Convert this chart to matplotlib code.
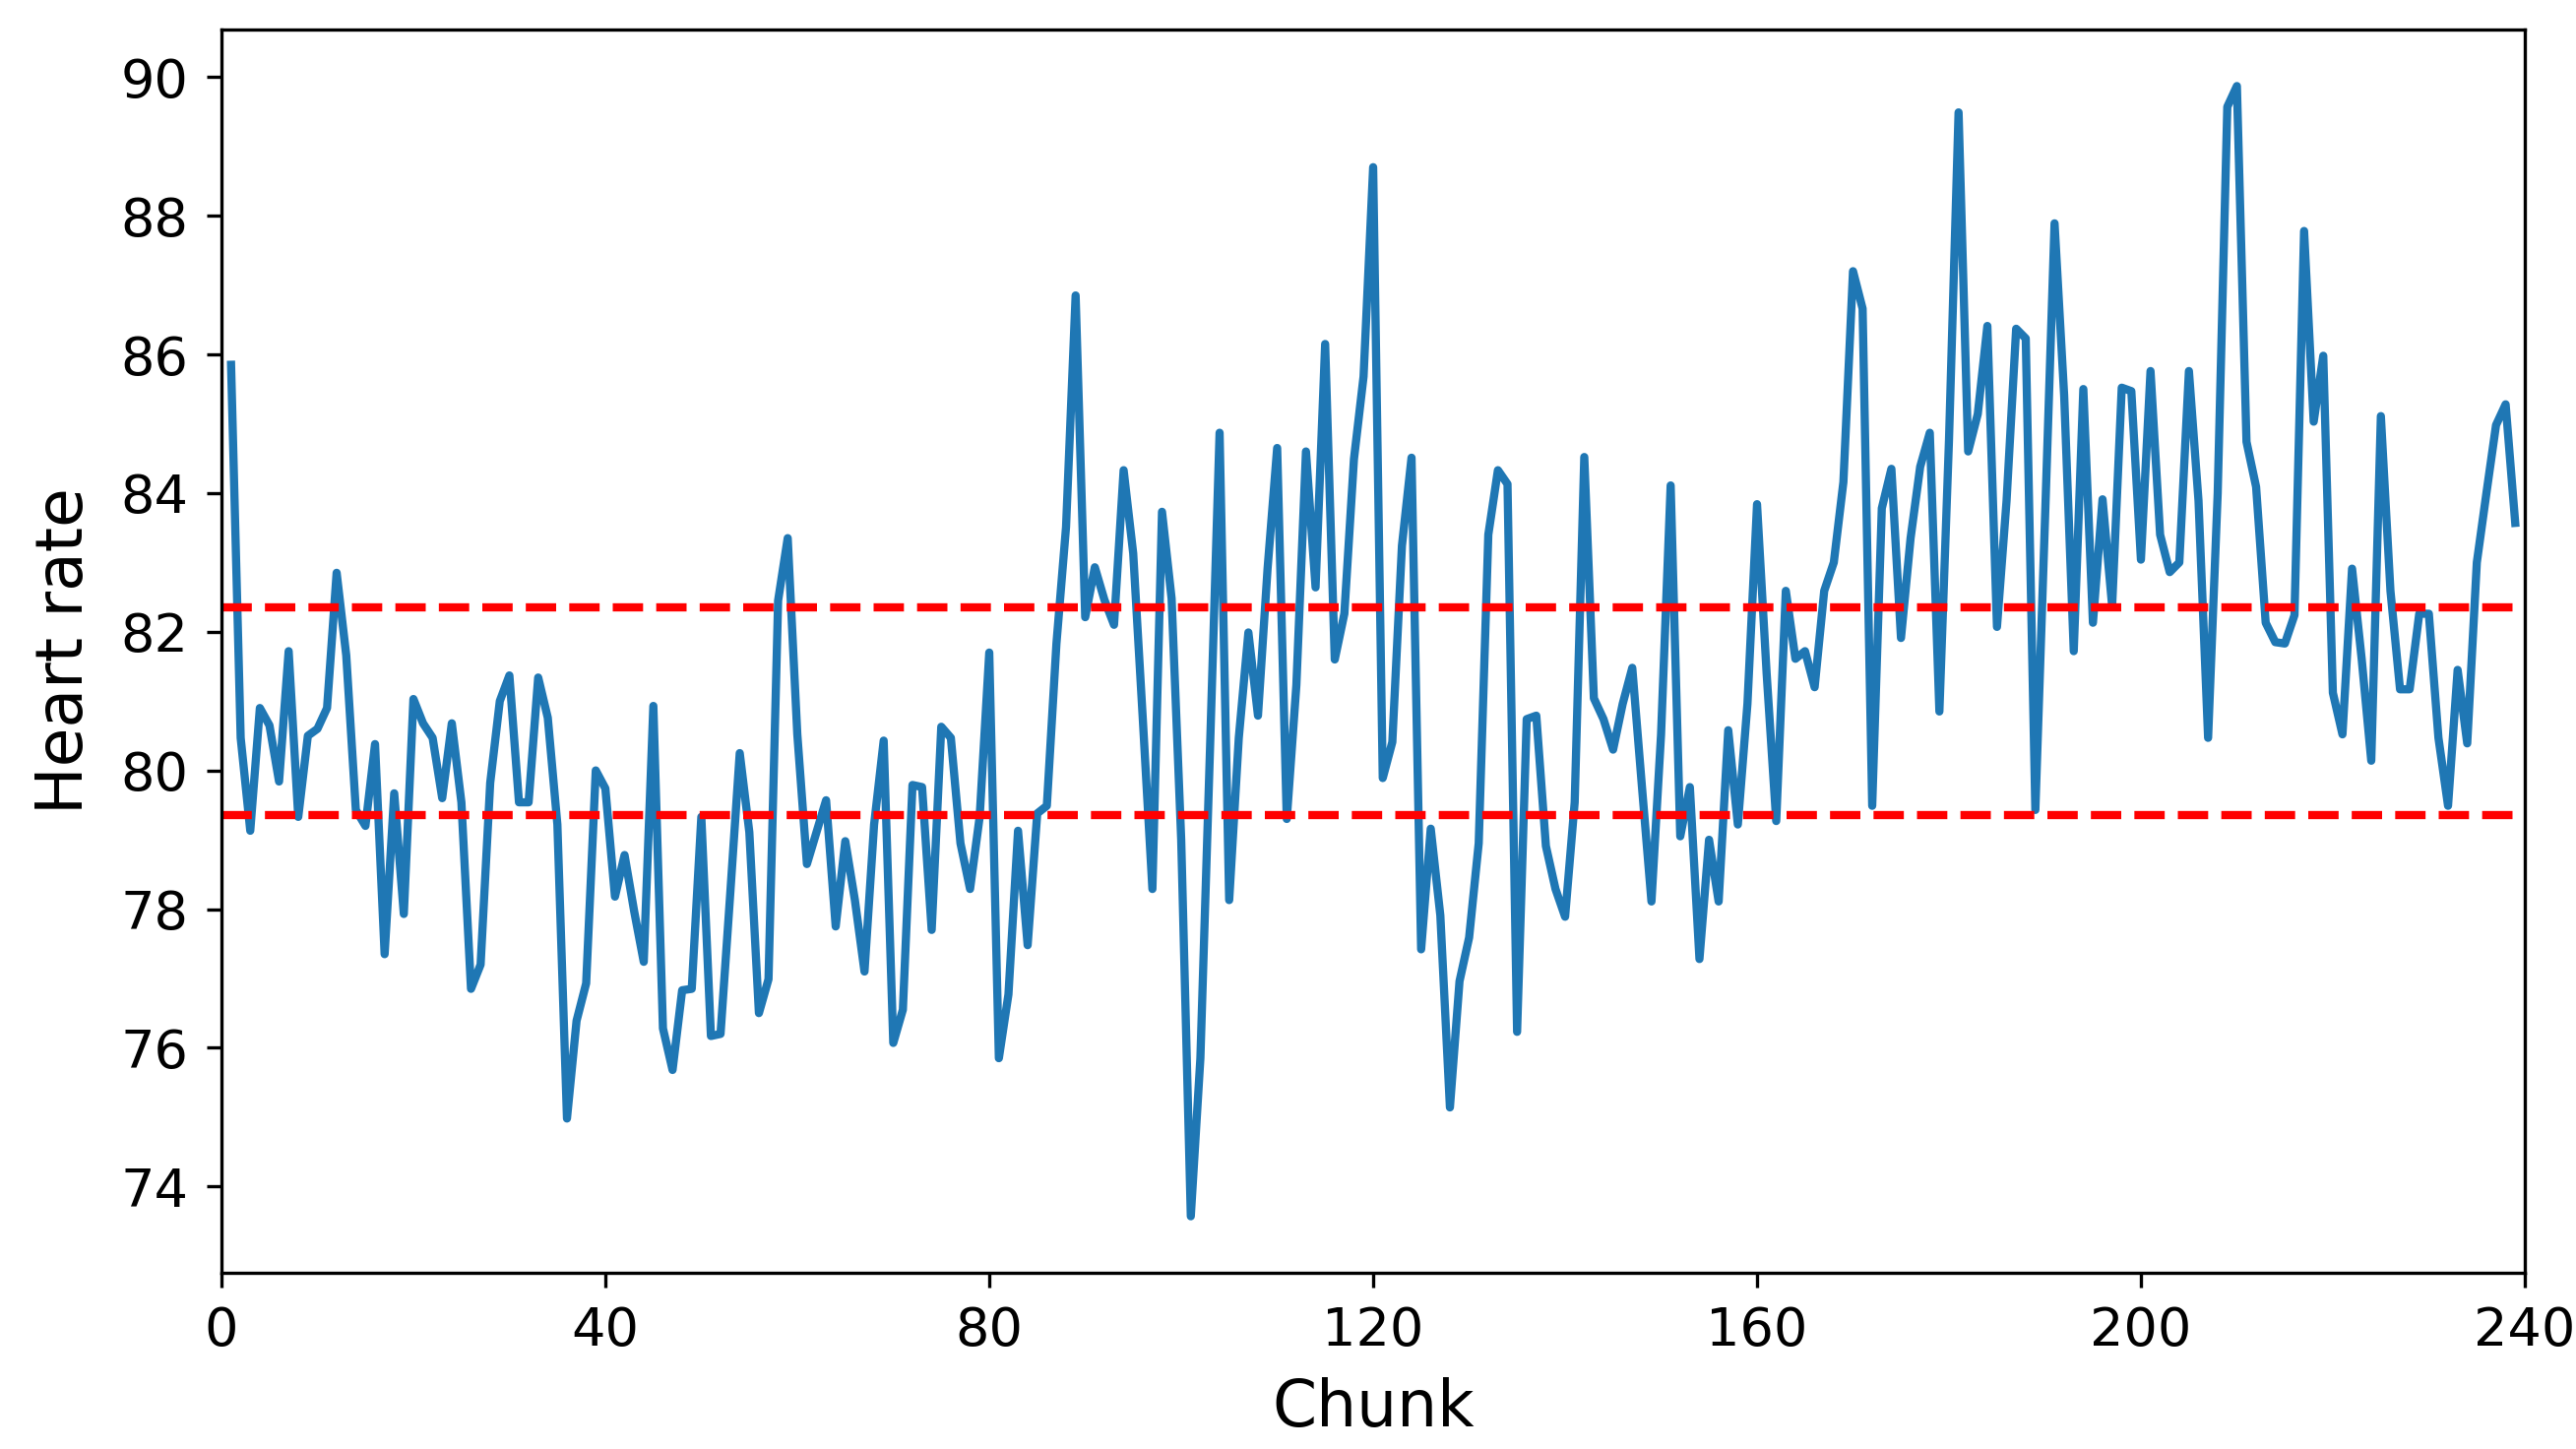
import matplotlib
matplotlib.use("Agg")
import matplotlib.pyplot as plt

chunks = list(range(1, 240))
heart_rate = [
    85.85, 80.47, 79.13, 80.90, 80.65, 79.84, 81.72, 79.33, 80.50, 80.60,
    80.90, 82.85, 81.66, 79.43, 79.20, 80.38, 77.35, 79.67, 77.93, 81.03,
    80.68, 80.47, 79.60, 80.68, 79.54, 76.85, 77.20, 79.82, 81.00, 81.37,
    79.54, 79.54, 81.34, 80.76, 79.22, 74.98, 76.39, 76.93, 80.00, 79.74,
    78.18, 78.78, 77.97, 77.24, 80.93, 76.28, 75.68, 76.83, 76.85, 79.33,
    76.17, 76.20, 78.20, 80.25, 79.11, 76.50, 76.99, 82.45, 83.35, 80.52,
    78.65, 79.11, 79.57, 77.75, 78.98, 78.13, 77.10, 79.22, 80.43, 76.07,
    76.55, 79.79, 79.76, 77.70, 80.63, 80.47, 78.95, 78.29, 79.33, 81.70,
    75.85, 76.77, 79.13, 77.48, 79.38, 79.49, 81.83, 83.51, 86.85, 82.21,
    82.93, 82.46, 82.10, 84.33, 83.13, 80.74, 78.29, 83.73, 82.48, 79.00,
    73.57, 75.85, 80.30, 84.87, 78.13, 80.47, 81.99, 80.79, 82.91, 84.65,
    79.30, 81.23, 84.60, 82.64, 86.15, 81.60, 82.26, 84.49, 85.68, 88.70,
    79.89, 80.41, 83.24, 84.51, 77.42, 79.16, 77.91, 75.14, 76.96, 77.59,
    78.95, 83.40, 84.33, 84.13, 76.23, 80.74, 80.79, 78.91, 78.29, 77.89,
    79.54, 84.52, 81.04, 80.74, 80.30, 80.96, 81.48, 79.78, 78.11, 80.52,
    84.11, 79.05, 79.76, 77.28, 79.00, 78.11, 80.58, 79.22, 80.96, 83.84,
    81.40, 79.27, 82.59, 81.61, 81.72, 81.20, 82.59, 83.00, 84.16, 87.20,
    86.66, 79.49, 83.78, 84.35, 81.91, 83.35, 84.38, 84.87, 80.85, 84.76,
    89.49, 84.60, 85.14, 86.41, 82.07, 83.89, 86.37, 86.23, 79.43, 83.60,
    87.89, 85.41, 81.72, 85.50, 82.13, 83.91, 82.37, 85.52, 85.47, 83.04,
    85.76, 83.40, 82.86, 83.00, 85.76, 83.89, 80.47, 84.00, 89.57, 89.87,
    84.74, 84.09, 82.13, 81.85, 81.83, 82.24, 87.78, 85.03, 85.98, 81.12,
    80.52, 82.91, 81.61, 80.14, 85.11, 82.59, 81.17, 81.17, 82.26, 82.26,
    80.47, 79.49, 81.45, 80.39, 83.00, 84.00, 84.98, 85.28, 83.57,
]
thresholds = [82.35, 79.35]
x_ticks = [0, 40, 80, 120, 160, 200, 240]
y_ticks = [74, 76, 78, 80, 82, 84, 86, 88, 90]

fig = plt.figure(figsize=(2617 / 300, 1472 / 300), dpi=300)
ax = fig.add_axes([225 / 2617, 1 - 1293 / 1472, (2565 - 225) / 2617, (1293 - 30) / 1472])
ax.plot(chunks, heart_rate, color="#1f77b4", linewidth=2.0)
for t in thresholds:
    ax.axhline(t, color="red", linestyle="--", linewidth=2.0)
ax.set_xlim(0, 240)
ax.set_xticks(x_ticks)
ax.set_yticks(y_ticks)
ax.tick_params(labelsize=13, pad=4.5)
ax.set_xlabel("Chunk", fontsize=15.5, labelpad=5)
ax.set_ylabel("Heart rate", fontsize=15.5, labelpad=6)
fig.savefig("out.png", dpi=300)
